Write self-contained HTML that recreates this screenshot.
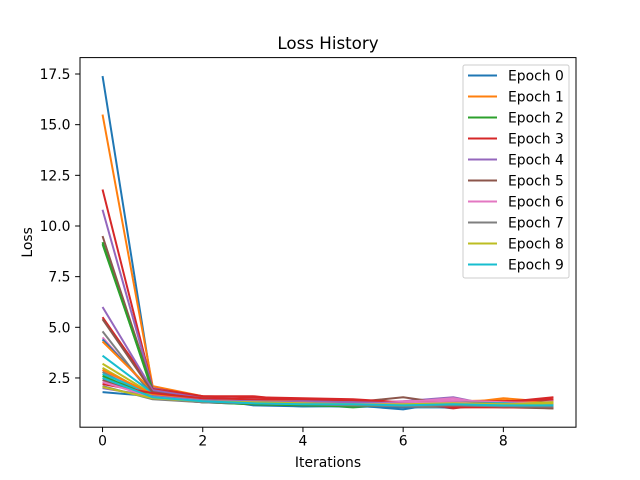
<!DOCTYPE html>
<html><head><meta charset="utf-8"><style>
body{margin:0;background:#fff}
svg{display:block;font-family:"DejaVu Sans","Liberation Sans",sans-serif}
</style></head><body>
<svg id="chart" width="640" height="480" viewBox="0 0 640 480"></svg>
<script>
const iterations=[0,1,2,3,4,5,6,7,8,9];
const seriesLabels=["Epoch 0","Epoch 1","Epoch 2","Epoch 3","Epoch 4","Epoch 5","Epoch 6","Epoch 7","Epoch 8","Epoch 9"];
const xTicks=[0,2,4,6,8];
const yTicks=[2.5,5.0,7.5,10.0,12.5,15.0,17.5];
const lossRuns=[
[17.4,1.9,1.5,1.15,1.1,1.15,0.95,1.35,1.25,1.2],
[15.5,2.1,1.6,1.3,1.25,1.2,1.3,1.2,1.5,1.3],
[9.2,1.8,1.4,1.3,1.2,1.05,1.2,1.25,1.15,1.1],
[11.8,2.0,1.6,1.6,1.35,1.4,1.25,1.0,1.3,1.55],
[10.8,2.0,1.5,1.35,1.4,1.3,1.35,1.55,1.05,1.2],
[9.5,1.95,1.55,1.4,1.3,1.3,1.55,1.2,1.3,1.4],
[4.5,1.7,1.4,1.3,1.3,1.2,1.3,1.5,1.1,1.35],
[4.8,1.6,1.35,1.35,1.25,1.3,1.2,1.25,1.2,1.1],
[3.2,1.7,1.45,1.4,1.3,1.25,1.1,1.3,1.25,1.3],
[3.6,1.75,1.45,1.25,1.3,1.2,1.15,1.2,1.15,1.2],
[4.4,1.8,1.4,1.3,1.2,1.15,1.25,1.2,1.1,1.05],
[4.3,1.85,1.5,1.35,1.3,1.2,1.3,1.35,1.4,1.25],
[9.1,1.9,1.55,1.3,1.25,1.15,1.1,1.3,1.2,1.2],
[5.5,1.95,1.6,1.55,1.5,1.45,1.3,1.35,1.35,1.45],
[6.0,1.9,1.5,1.45,1.35,1.25,1.2,1.25,1.1,1.15],
[5.4,1.8,1.45,1.3,1.2,1.2,1.15,1.15,1.05,1.0],
[2.9,1.65,1.4,1.35,1.3,1.25,1.35,1.4,1.3,1.25],
[2.8,1.5,1.3,1.25,1.2,1.15,1.2,1.3,1.25,1.2],
[3.0,1.6,1.35,1.3,1.25,1.2,1.25,1.2,1.2,1.3],
[2.7,1.7,1.4,1.3,1.2,1.2,1.15,1.2,1.25,1.15],
[1.8,1.6,1.3,1.2,1.1,1.1,1.05,1.05,1.1,1.1],
[2.9,1.7,1.45,1.4,1.3,1.25,1.1,1.1,1.2,1.2],
[2.6,1.55,1.3,1.2,1.15,1.1,1.15,1.2,1.15,1.05],
[2.2,1.75,1.5,1.45,1.45,1.4,1.25,1.05,1.05,1.05],
[2.0,1.6,1.4,1.35,1.3,1.3,1.25,1.2,1.1,1.2],
[2.4,1.5,1.3,1.25,1.2,1.2,1.1,1.15,1.1,1.0],
[2.3,1.55,1.35,1.3,1.25,1.2,1.25,1.3,1.15,1.1],
[2.1,1.45,1.3,1.25,1.2,1.15,1.1,1.15,1.1,1.1],
[2.05,1.5,1.35,1.3,1.25,1.2,1.2,1.25,1.2,1.25],
[2.5,1.55,1.35,1.25,1.2,1.2,1.15,1.2,1.15,1.15]
];
const colors=["#1f77b4","#ff7f0e","#2ca02c","#d62728","#9467bd","#8c564b","#e377c2","#7f7f7f","#bcbd22","#17becf"];
const NS="http://www.w3.org/2000/svg";
const svg=document.getElementById('chart');
const L=80,R=576,T=57.6,B=427.2;
const xmin=-0.45,xmax=9.45,ymin=0.07,ymax=18.31;
const xs=v=>L+(v-xmin)/(xmax-xmin)*(R-L);
const ys=v=>B-(v-ymin)/(ymax-ymin)*(B-T);
function mk(tag,attrs,parent){const e=document.createElementNS(NS,tag);for(const k in attrs)e.setAttribute(k,attrs[k]);(parent||svg).appendChild(e);return e;}
const lines=mk('g',{});


lossRuns.forEach((run,i)=>{
  const p=mk('polyline',{points:run.map((v,j)=>xs(iterations[j])+','+ys(v)).join(' '),fill:'none',stroke:colors[i%10],'stroke-width':2,'stroke-linejoin':'round'},lines);
  
  
});
const frame=mk('rect',{x:L,y:T,width:R-L,height:B-T,fill:'none',stroke:'#000','stroke-width':1});


xTicks.forEach(t=>{
  const x=xs(t);
  mk('line',{x1:x,x2:x,y1:B,y2:B+4.9,stroke:'#000','stroke-width':1});
  const tx=mk('text',{x:x,y:B+18.5,'font-size':13.9,'text-anchor':'middle'});
  tx.textContent=t;
  
  
});
yTicks.forEach(t=>{
  const y=ys(t);
  mk('line',{x1:L-4.9,x2:L,y1:y,y2:y,stroke:'#000','stroke-width':1});
  const tx=mk('text',{x:L-9.5,y:y+5,'font-size':13.9,'text-anchor':'end'});
  tx.textContent=t.toFixed(1);
  
  
});
const title=mk('text',{x:(L+R)/2,y:49,'font-size':16.7,'text-anchor':'middle'});
title.textContent='Loss History';


const xl=mk('text',{x:(L+R)/2,y:467,'font-size':13.9,'text-anchor':'middle'});
xl.textContent='Iterations';


const yl=mk('text',{x:0,y:0,'font-size':13.9,'text-anchor':'middle',transform:'translate(32,'+((T+B)/2)+') rotate(-90)'});
yl.textContent='Loss';


const lg=mk('g',{});


mk('rect',{x:463,y:65,width:106,height:213,rx:2,fill:'#fff','fill-opacity':0.8,stroke:'#ccc','stroke-width':1},lg);
seriesLabels.forEach((s,i)=>{
  const y=75.5+i*21;
  const e=mk('g',{},lg);
  
  
  mk('line',{x1:468,x2:497,y1:y,y2:y,stroke:colors[i],'stroke-width':2},e);
  const t=mk('text',{x:508,y:y+5,'font-size':13.9},e);
  t.textContent=s;
});
</script>
</body></html>
